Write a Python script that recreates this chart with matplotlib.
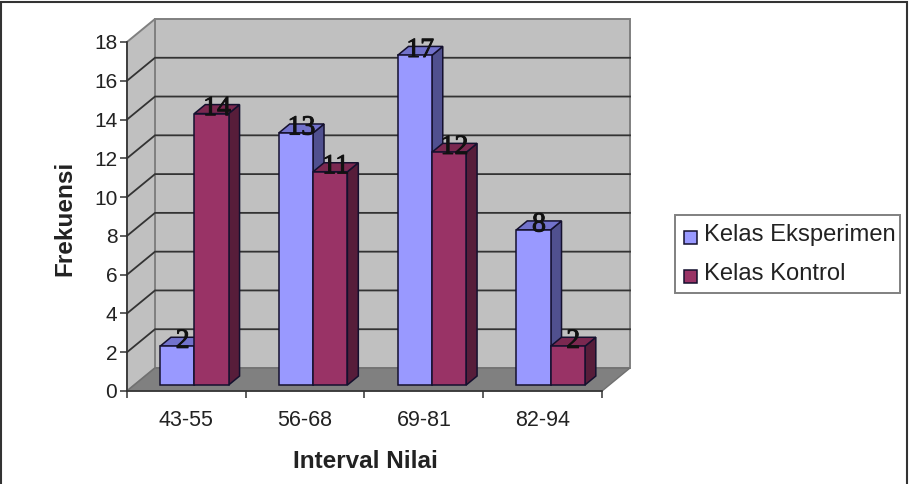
import matplotlib
matplotlib.use("Agg")
import matplotlib.pyplot as plt
import matplotlib.patheffects as pe
from matplotlib.lines import Line2D
from matplotlib.patches import Polygon, Rectangle

categories = ["43-55", "56-68", "69-81", "82-94"]
eksperimen = [2, 13, 17, 8]
kontrol = [14, 11, 12, 2]
y_ticks = list(range(0, 20, 2))

W, H = 912, 484
PX_X = 118.75   # pixels per category
PX_Y = 19.39    # pixels per frequency unit
DEPTH_X = 28 / PX_X
DEPTH_Y = 23 / PX_Y
Y_MAX = 18

BLUE = ("#9999FF", "#7272CC", "#50508F")
RED = ("#993366", "#7A2850", "#571D3A")
EDGE = "#14102E"


def skew(x, y, d):
    """Project a point at depth d (0 front, 1 back wall) onto the plane."""
    return x + d * DEPTH_X, y + d * DEPTH_Y


fig = plt.figure(figsize=(W / 100, H / 100), dpi=100, facecolor="white")
ax = fig.add_axes([127 / W, (H - 391) / H, (28 + 4 * PX_X) / W, (23 + Y_MAX * PX_Y) / H])
ax.set_xlim(0, 4 + DEPTH_X)
ax.set_ylim(0, Y_MAX + DEPTH_Y)
ax.patch.set_visible(False)
for name in ("top", "right"):
    ax.spines[name].set_visible(False)

# Back wall, side wall and floor
wall_edge = "#808080"
ax.add_patch(Polygon([skew(0, 0, 1), skew(4, 0, 1), skew(4, Y_MAX, 1), skew(0, Y_MAX, 1)],
                     fc="#C0C0C0", ec=wall_edge, lw=1.4, clip_on=False, zorder=1))
ax.add_patch(Polygon([skew(0, 0, 0), skew(0, 0, 1), skew(0, Y_MAX, 1), skew(0, Y_MAX, 0)],
                     fc="#C0C0C0", ec=wall_edge, lw=1.4, clip_on=False, zorder=1))
ax.add_patch(Polygon([skew(0, 0, 0), skew(4, 0, 0), skew(4, 0, 1), skew(0, 0, 1)],
                     fc="#808080", ec="#707070", lw=1.0, clip_on=False, zorder=1))

# Gridlines run along the side wall and across the back wall
for v in y_ticks[1:-1]:
    x0, y0 = skew(0, v, 1)
    x1, _ = skew(4, v, 1)
    ax.plot([0, x0, x1], [v, y0, y0], color="#333333", lw=1.3, zorder=2,
            clip_on=False, solid_joinstyle="miter")

BAR_W = 34.3 / PX_X
D0, D1 = 0.26, 0.65
BAR_START = 0.217


def draw_bar(x, v, cols, z):
    f = [skew(x, 0, D0), skew(x + BAR_W, 0, D0), skew(x + BAR_W, v, D0), skew(x, v, D0)]
    side = [skew(x + BAR_W, 0, D0), skew(x + BAR_W, 0, D1), skew(x + BAR_W, v, D1), skew(x + BAR_W, v, D0)]
    top = [skew(x, v, D0), skew(x + BAR_W, v, D0), skew(x + BAR_W, v, D1), skew(x, v, D1)]
    for pts, c in ((side, cols[2]), (top, cols[1]), (f, cols[0])):
        ax.add_patch(Polygon(pts, fc=c, ec=EDGE, lw=1.1, joinstyle="miter",
                             clip_on=False, zorder=z))


for i, (a, b) in enumerate(zip(eksperimen, kontrol)):
    xa = i + BAR_START
    draw_bar(xa, a, BLUE, 3 + i * 2)
    draw_bar(xa + BAR_W, b, RED, 4 + i * 2)

# Value labels sit on the top face of each bar, with a heavier stroke
for i, (a, b) in enumerate(zip(eksperimen, kontrol)):
    xa = i + BAR_START
    for x, v in ((xa, a), (xa + BAR_W, b)):
        lx, ly = skew(x + BAR_W / 2, v, (D0 + D1) / 2)
        ax.text(lx, ly + 0.02, str(v), ha="center", va="center", color="#111111",
                family="Liberation Serif", fontsize=20, zorder=20, clip_on=False,
                path_effects=[pe.withStroke(linewidth=0.7, foreground="#111111")])

# Axes with ticks
ax.spines["left"].set_bounds(0, Y_MAX)
ax.spines["bottom"].set_bounds(0, 4)
for name in ("left", "bottom"):
    ax.spines[name].set_color("#333333")
    ax.spines[name].set_linewidth(1.2)
    ax.spines[name].set_zorder(2.5)
ax.set_yticks(y_ticks)
ax.set_xticks(range(5))
ax.set_xticklabels([])
ax.set_xticks([i + 0.5 for i in range(4)], minor=True)
ax.set_xticklabels(categories, minor=True)
ax.tick_params(axis="both", which="major", length=5, width=1.1, color="#333333")
ax.tick_params(axis="y", labelsize=15, labelcolor="#222222", pad=2)
ax.tick_params(axis="x", which="minor", length=0, labelsize=15.5, labelcolor="#222222", pad=14)
for lab in ax.get_yticklabels() + ax.get_xticklabels(minor=True):
    lab.set_family("Liberation Sans")

fig.text(365 / W, 1 - 461 / H, "Interval Nilai", ha="center", va="center",
         family="Liberation Sans", weight="bold", fontsize=17.5, color="#222222")
fig.text(65 / W, 1 - 218 / H, "Frekuensi", ha="center", va="center", rotation=90,
         family="Liberation Sans", weight="bold", fontsize=17.5, color="#222222")

# Legend
fig.add_artist(Rectangle((675 / W, 1 - 293 / H), 225 / W, 78 / H, transform=fig.transFigure,
                         fc="white", ec="#808080", lw=1.4))
for yc, col, name in ((236.5, BLUE[0], "Kelas Eksperimen"), (275.5, RED[0], "Kelas Kontrol")):
    fig.add_artist(Rectangle((684 / W, 1 - (yc + 7) / H), 13 / W, 13 / H, transform=fig.transFigure,
                             fc=col, ec=EDGE, lw=1.1))
    fig.text(704 / W, 1 - (yc - 1) / H, name, ha="left", va="center",
             family="Liberation Sans", fontsize=17.1, color="#222222")

# Chart frame: left, top and right edges only
fig.add_artist(Line2D([1.5 / W, 1.5 / W, 907.5 / W, 907.5 / W],
                      [0, 1 - 1.5 / H, 1 - 1.5 / H, 0],
                      transform=fig.transFigure, color="#333333", lw=1.5,
                      solid_joinstyle="miter"))

fig.savefig("out.png", dpi=100, facecolor="white")
